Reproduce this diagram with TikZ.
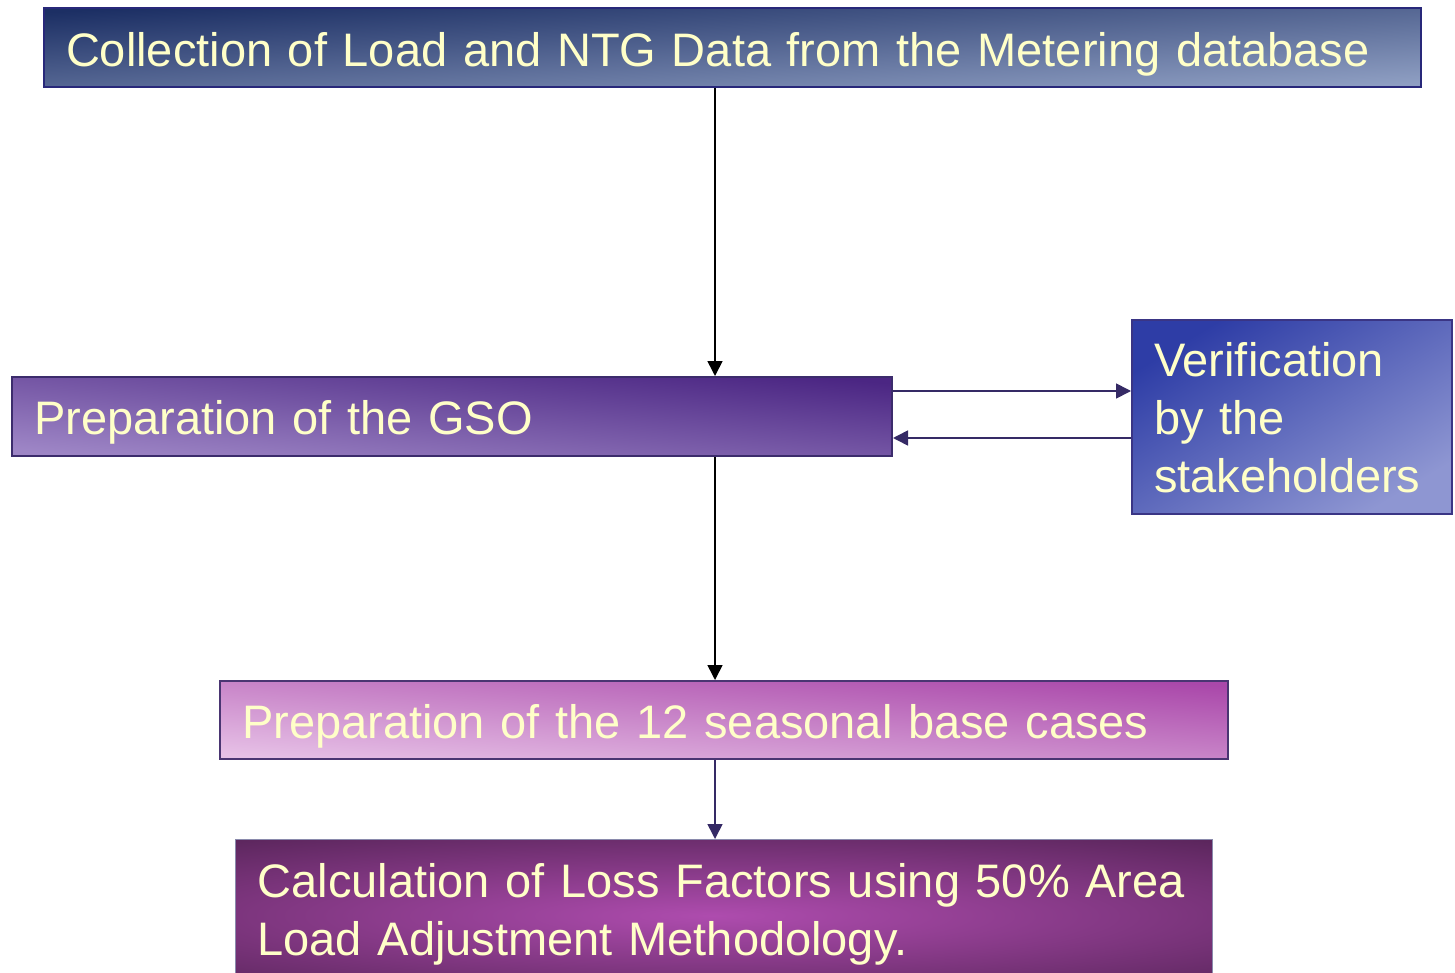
\documentclass[tikz,border=0pt]{standalone}
\usepackage{fontspec}
\setmainfont{Liberation Sans}
\usetikzlibrary{arrows.meta}

\definecolor{textc}{HTML}{FFFFC8}
\definecolor{topA}{HTML}{1C2F64}
\definecolor{topB}{HTML}{8E9EC2}
\definecolor{topedge}{HTML}{28287A}
\definecolor{gsoA}{HTML}{4B2683}
\definecolor{gsoB}{HTML}{9E86C6}
\definecolor{gsoedge}{HTML}{3C2C6C}
\definecolor{verA}{HTML}{2E3DA6}
\definecolor{verB}{HTML}{8E96D2}
\definecolor{veredge}{HTML}{3A3585}
\definecolor{seaA}{HTML}{AA48AA}
\definecolor{seaB}{HTML}{E6C0E6}
\definecolor{seaedge}{HTML}{4A3572}
\definecolor{calcdark}{HTML}{4A1E4C}
\definecolor{calcglow}{HTML}{AE4CAE}
\definecolor{calcedge}{HTML}{8A8AAC}
\definecolor{linkc}{HTML}{352A65}

\begin{document}
\begin{tikzpicture}[x=0.5pt,y=-0.5pt,
  box/.style={anchor=north west, draw, line width=1pt, inner xsep=11pt,
    inner ysep=0pt, align=left, text=textc,
    font=\fontsize{23.5}{29}\selectfont},
  link/.style={line width=0.8pt, -{Triangle[length=7.5pt,width=7.5pt]}},
]
\clip (0,0) rectangle (1455,973);
\fill[white] (0,0) rectangle (1455,973);

% process boxes
\node[box, draw=topedge, minimum width=688.5pt, minimum height=39.5pt,
  text width=666.5pt, text height=29.5pt, text depth=10pt,
  top color=topA, bottom color=topB, shading angle=3.3]
  (collect) at (43,7) {Collection of Load and NTG Data from the Metering database};

\node[box, draw=gsoedge, minimum width=440pt, minimum height=39.5pt,
  text width=418pt, text height=28.5pt, text depth=11pt,
  top color=gsoA, bottom color=gsoB, shading angle=-5.1]
  (gso) at (11,376) {Preparation of the GSO};

\node[box, draw=veredge, minimum width=160pt, minimum height=97pt,
  text width=138pt, text height=28pt, text depth=69pt,
  top color=verA, bottom color=verB, shading angle=31]
  (verify) at (1131,319) {Verification\\by the\\stakeholders};

\node[box, draw=seaedge, minimum width=504pt, minimum height=39pt,
  text width=482pt, text height=28.5pt, text depth=10.5pt,
  top color=seaA, bottom color=seaB, shading angle=-4.4]
  (seasonal) at (219,680) {Preparation of the 12 seasonal base cases};

\node[box, draw=calcedge, line width=0.6pt, fill=calcdark,
  minimum width=488.5pt, minimum height=80.5pt,
  text width=466.5pt, text height=29pt, text depth=51.5pt,
  path picture={\shade[inner color=calcglow, outer color=calcdark]
    ([shift={(-6pt,-38pt)}]path picture bounding box.north)
    ellipse [x radius=480pt, y radius=58pt];}]
  (calc) at (235,839) {Calculation of Loss Factors using 50\% Area\\Load Adjustment Methodology.};

% connectors
\coordinate (spine) at (715,0);
\coordinate (fwd) at (0,391);
\coordinate (back) at (0,438);

\draw[link, black] (spine |- collect.south) -- (spine |- gso.north);
\draw[link, black] (spine |- gso.south) -- (spine |- seasonal.north);
\draw[link, linkc] (spine |- seasonal.south) -- (spine |- calc.north);
\draw[link, linkc] (gso.east |- fwd) -- (verify.west |- fwd);
\draw[link, linkc] (verify.west |- back) -- (gso.east |- back);
\end{tikzpicture}
\end{document}
